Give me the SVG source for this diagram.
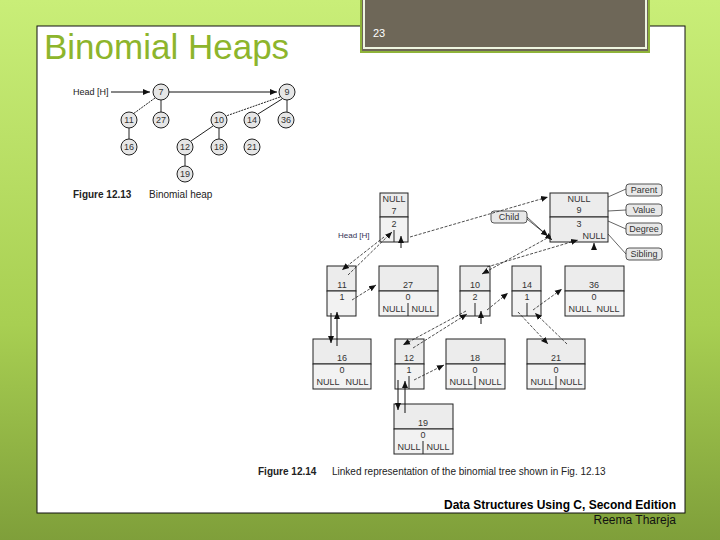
<svg xmlns="http://www.w3.org/2000/svg" width="720" height="540" viewBox="0 0 720 540">
<defs>
<linearGradient id="bg" x1="0" y1="0" x2="0" y2="1"><stop offset="0" stop-color="#c9ee78"/><stop offset="0.6" stop-color="#a8cf52"/><stop offset="1" stop-color="#7f9f3a"/></linearGradient>
<marker id="ah" markerWidth="8" markerHeight="8" refX="7" refY="4" orient="auto" markerUnits="userSpaceOnUse"><path d="M0,1 L7,4 L0,7 Z" fill="#111"/></marker>
</defs>
<style>
.t{font-family:"Liberation Sans",Arial,sans-serif;fill:#222}
.s{font-size:9px;text-anchor:middle;fill:#333}
.nd{fill:#e6e6e6;stroke:#222;stroke-width:1}
.bx{fill:#ececec;stroke:#222;stroke-width:1}
.lo{fill:#f2f2f2;stroke:#222;stroke-width:1}
.ln{stroke:#222;stroke-width:1;fill:none}
.da{stroke:#222;stroke-width:0.8;fill:none;stroke-dasharray:3,1.5;marker-end:url(#ah)}
.so{stroke:#111;stroke-width:1;fill:none;marker-end:url(#ah)}
.lb{fill:#e8e8e8;stroke:#555;stroke-width:1}
</style>
<rect width="720" height="540" fill="url(#bg)"/>
<rect x="37" y="26" width="648" height="487" fill="#fff" stroke="#111" stroke-width="1"/>
<rect x="361" y="-2" width="288" height="54" fill="#6e6758" stroke="#8fb33a" stroke-width="2"/>
<rect x="364" y="-2" width="282" height="50" fill="none" stroke="#eef5e0" stroke-width="2"/>
<text x="373" y="37" class="t" style="font-size:11px;fill:#fff">23</text>
<text x="44" y="59" class="t" style="font-size:35px;fill:#8db52c">Binomial Heaps</text>

<g id="fig1">
<text x="73" y="95" class="t" style="font-size:9px">Head [H]</text>
<g class="ln">
<line x1="111" y1="92" x2="150" y2="92" class="so"/>
<line x1="169" y1="92" x2="277" y2="92" class="so"/>
<line x1="155" y1="98" x2="133" y2="114" style="stroke-dasharray:2,1"/>
<line x1="161" y1="100" x2="161" y2="112"/>
<line x1="280" y1="97" x2="226" y2="116" style="stroke-dasharray:2,1"/>
<line x1="282" y1="99" x2="258" y2="114"/>
<line x1="287" y1="100" x2="287" y2="112"/>
<line x1="129" y1="128" x2="129" y2="139"/>
<line x1="213" y1="126" x2="191" y2="141"/>
<line x1="219" y1="128" x2="219" y2="139"/>
<line x1="185" y1="155" x2="185" y2="166"/>
</g>
<g id="c7"><circle cx="161" cy="92" r="8" class="nd"/><text x="161" y="95" class="t s">7</text></g>
<g id="c9"><circle cx="287" cy="92" r="8" class="nd"/><text x="287" y="95" class="t s">9</text></g>
<g id="c11"><circle cx="129" cy="120" r="8" class="nd"/><text x="129" y="123" class="t s">11</text></g>
<g id="c27"><circle cx="161" cy="120" r="8" class="nd"/><text x="161" y="123" class="t s">27</text></g>
<g id="c10"><circle cx="219" cy="120" r="8" class="nd"/><text x="219" y="123" class="t s">10</text></g>
<g id="c14"><circle cx="252" cy="120" r="8" class="nd"/><text x="252" y="123" class="t s">14</text></g>
<g id="c36"><circle cx="286" cy="120" r="8" class="nd"/><text x="286" y="123" class="t s">36</text></g>
<g id="c16"><circle cx="129" cy="147" r="8" class="nd"/><text x="129" y="150" class="t s">16</text></g>
<g id="c12"><circle cx="185" cy="147" r="8" class="nd"/><text x="185" y="150" class="t s">12</text></g>
<g id="c18"><circle cx="219" cy="147" r="8" class="nd"/><text x="219" y="150" class="t s">18</text></g>
<g id="c21"><circle cx="252" cy="147" r="8" class="nd"/><text x="252" y="150" class="t s">21</text></g>
<g id="c19"><circle cx="185" cy="174" r="8" class="nd"/><text x="185" y="177" class="t s">19</text></g>
<text x="73" y="198" class="t" style="font-size:10px;font-weight:bold">Figure 12.13</text>
<text x="149" y="198" class="t" style="font-size:10px">Binomial heap</text>
</g>

<g id="n7"><rect x="380" y="193" width="28" height="24" class="bx"/><rect x="380" y="217" width="28" height="25" class="lo"/><line x1="394" y1="230" x2="394" y2="242" class="ln"/>
<text x="394" y="202" class="t s">NULL</text><text x="394" y="214" class="t s">7</text><text x="394" y="227" class="t s">2</text></g>
<g id="n9"><rect x="550" y="193" width="58" height="24" class="bx"/><rect x="550" y="217" width="58" height="25" class="bx"/>
<text x="579" y="202" class="t s">NULL</text><text x="579" y="213" class="t s">9</text><text x="579" y="227" class="t s">3</text><text x="594" y="239" class="t s">NULL</text></g>

<g id="n11"><rect x="327" y="266" width="29" height="25" class="bx"/><rect x="327" y="291" width="29" height="25" class="lo"/><text x="342" y="288" class="t s">11</text><text x="342" y="300" class="t s">1</text></g>
<g id="n27"><rect x="379" y="266" width="59" height="25" class="bx"/><rect x="379" y="291" width="59" height="25" class="lo"/><line x1="408" y1="303" x2="408" y2="316" class="ln"/><text x="408" y="288" class="t s">27</text><text x="408" y="300" class="t s">0</text><text x="394" y="312" class="t s">NULL</text><text x="423" y="312" class="t s">NULL</text></g>
<g id="n10"><rect x="460" y="266" width="30" height="25" class="bx"/><rect x="460" y="291" width="30" height="25" class="lo"/><line x1="475" y1="303" x2="475" y2="316" class="ln"/><text x="475" y="288" class="t s">10</text><text x="475" y="300" class="t s">2</text></g>
<g id="n14"><rect x="512" y="266" width="29" height="25" class="bx"/><rect x="512" y="291" width="29" height="25" class="lo"/><line x1="527" y1="303" x2="527" y2="316" class="ln"/><text x="527" y="288" class="t s">14</text><text x="527" y="300" class="t s">1</text></g>
<g id="n36"><rect x="565" y="266" width="59" height="25" class="bx"/><rect x="565" y="291" width="59" height="25" class="lo"/><text x="594" y="288" class="t s">36</text><text x="594" y="300" class="t s">0</text><text x="580" y="312" class="t s">NULL</text><text x="608" y="312" class="t s">NULL</text></g>

<g id="n16"><rect x="313" y="339" width="58" height="25" class="bx"/><rect x="313" y="364" width="58" height="25" class="lo"/><text x="342" y="361" class="t s">16</text><text x="342" y="373" class="t s">0</text><text x="328" y="385" class="t s">NULL</text><text x="357" y="385" class="t s">NULL</text></g>
<g id="n12"><rect x="395" y="339" width="29" height="25" class="bx"/><rect x="395" y="364" width="29" height="25" class="lo"/><line x1="409" y1="376" x2="409" y2="389" class="ln"/><text x="409" y="361" class="t s">12</text><text x="409" y="373" class="t s">1</text></g>
<g id="n18"><rect x="446" y="339" width="59" height="25" class="bx"/><rect x="446" y="364" width="59" height="25" class="lo"/><line x1="475" y1="376" x2="475" y2="389" class="ln"/><text x="475" y="361" class="t s">18</text><text x="475" y="373" class="t s">0</text><text x="461" y="385" class="t s">NULL</text><text x="490" y="385" class="t s">NULL</text></g>
<g id="n21"><rect x="527" y="339" width="58" height="25" class="bx"/><rect x="527" y="364" width="58" height="25" class="lo"/><line x1="556" y1="376" x2="556" y2="389" class="ln"/><text x="556" y="361" class="t s">21</text><text x="556" y="373" class="t s">0</text><text x="542" y="385" class="t s">NULL</text><text x="571" y="385" class="t s">NULL</text></g>
<g id="n19"><rect x="394" y="404" width="59" height="25" class="bx"/><rect x="394" y="429" width="59" height="25" class="lo"/><line x1="423" y1="441" x2="423" y2="454" class="ln"/><text x="423" y="426" class="t s">19</text><text x="423" y="438" class="t s">0</text><text x="409" y="450" class="t s">NULL</text><text x="438" y="450" class="t s">NULL</text></g>

<g id="labels">
<rect x="491" y="211" width="36" height="12" rx="3" class="lb"/><text x="509" y="220" class="t s">Child</text>
<rect x="626" y="184" width="36" height="12" rx="3" class="lb"/><text x="644" y="193" class="t s">Parent</text>
<rect x="626" y="204" width="36" height="12" rx="3" class="lb"/><text x="644" y="213" class="t s">Value</text>
<rect x="626" y="223" width="36" height="12" rx="3" class="lb"/><text x="644" y="232" class="t s">Degree</text>
<rect x="626" y="248" width="36" height="12" rx="3" class="lb"/><text x="644" y="257" class="t s">Sibling</text>
<text x="338" y="238" class="t" style="font-size:8px;fill:#335">Head [H]</text>
</g>

<g id="connectors">
<path d="M608,197 L626,189 M608,211 L626,210 M608,221 L626,229 M608,234 L626,254" class="ln" style="stroke-width:0.7"/>
<line x1="527" y1="217" x2="552" y2="240" class="so" style="stroke-width:0.7"/>
<line x1="527" y1="219" x2="548" y2="236" class="so" style="stroke-width:0.7"/>
<line x1="410" y1="237" x2="548" y2="197" class="da"/>
<line x1="384" y1="237" x2="342" y2="270" class="da"/>
<line x1="348" y1="275" x2="392" y2="232" class="da"/>
<line x1="401" y1="248" x2="401" y2="236" class="so"/>
<line x1="551" y1="236" x2="482" y2="274" class="da"/>
<line x1="487" y1="267" x2="578" y2="240" class="da"/>
<line x1="594" y1="250" x2="594" y2="243" class="so"/>
<line x1="352" y1="300" x2="376" y2="285" class="da"/>
<line x1="487" y1="310" x2="508" y2="293" class="da"/>
<line x1="533" y1="310" x2="562" y2="289" class="da"/>
<line x1="331" y1="313" x2="331" y2="343" class="so"/>
<line x1="337" y1="346" x2="337" y2="312" class="so"/>
<line x1="466" y1="311" x2="403" y2="345" class="da"/>
<line x1="413" y1="348" x2="467" y2="314" class="da"/>
<line x1="481" y1="324" x2="481" y2="311" class="so"/>
<line x1="518" y1="312" x2="548" y2="344" class="da"/>
<line x1="567" y1="344" x2="535" y2="313" class="da"/>
<line x1="414" y1="380" x2="444" y2="365" class="da"/>
<line x1="398" y1="380" x2="398" y2="410" class="so"/>
<line x1="405" y1="413" x2="405" y2="381" class="so"/>
</g>

<text x="258" y="475" class="t" style="font-size:10px;font-weight:bold">Figure 12.14</text>
<text x="332" y="475" class="t" style="font-size:10px">Linked representation of the binomial tree shown in Fig. 12.13</text>
<text x="676" y="509" class="t" style="font-size:12px;font-weight:bold;text-anchor:end;fill:#000">Data Structures Using C, Second Edition</text>
<text x="676" y="524" class="t" style="font-size:12px;text-anchor:end;fill:#111">Reema Thareja</text>
</svg>
